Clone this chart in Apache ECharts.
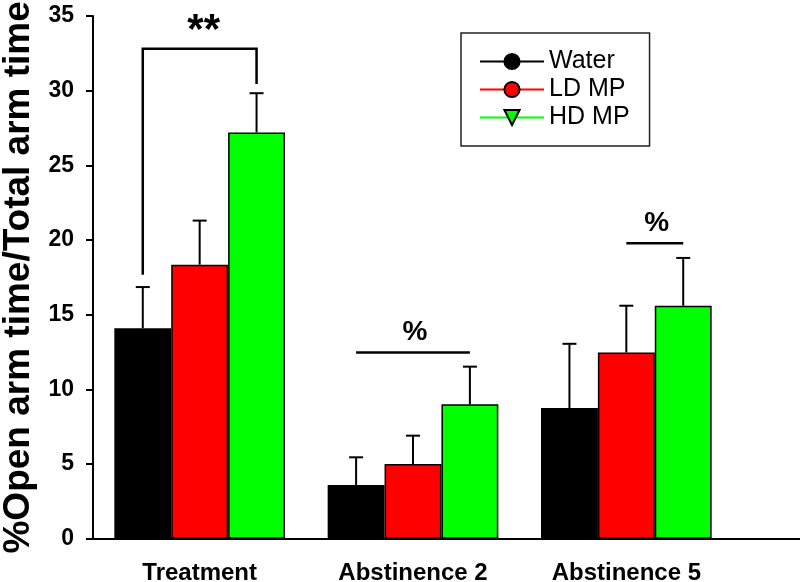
<!DOCTYPE html>
<html>
<head>
<meta charset="utf-8">
<script src="https://cdn.jsdelivr.net/npm/echarts@6/dist/echarts.min.js"></script>
<style>
html,body{margin:0;padding:0;background:#fff;}
#chart{width:800px;height:582px;}
</style>
</head>
<body>
<div id="chart"></div>
<script>
// ---- data ----
const categories = ['Treatment', 'Abstinence 2', 'Abstinence 5'];
const seriesNames = ['Water', 'LD MP', 'HD MP'];
const waterMean = [14.1, 3.6, 8.75];
const waterErr  = [2.75, 1.85, 4.3];
const ldMean    = [18.35, 5.0, 12.47];
const ldErr     = [2.95, 1.9, 3.13];
const hdMean    = [27.2, 9.0, 15.6];
const hdErr     = [2.63, 2.52, 3.2];
const yTicks = { min: 0, max: 35, interval: 5 };
// significance brackets: category, first bar, last bar, bar height, left end, right end, mark
const bracketCat   = [0, 1, 2];
const bracketFrom  = [0, 0, 1];
const bracketTo    = [2, 2, 2];
const bracketTop   = [32.8, 12.47, 19.79];
const bracketLeft  = [17.67, 12.47, 19.79];
const bracketRight = [30.45, 12.47, 19.79];
const bracketText  = ['**', '%', '%'];

const colors = ['#000000', '#ff0000', '#00ff00'];
const symbols = ['circle', 'circle', 'path://M0,0 L10,0 L5,9 Z'];
const means = [waterMean, ldMean, hdMean];
const errs = [waterErr, ldErr, hdErr];
const FONT = '"Liberation Sans", Arial, sans-serif';

const chart = echarts.init(document.getElementById('chart'), null, { renderer: 'canvas' });

const series = [];
// legend proxies (line style legend icon)
seriesNames.forEach((n, i) => {
  series.push({
    type: 'line', name: n, data: [], xAxisIndex: 0, yAxisIndex: 0,
    symbol: symbols[i], symbolSize: 15,
    itemStyle: { color: colors[i], borderColor: '#000', borderWidth: 1 },
    lineStyle: { color: colors[i], width: 1.2 }
  });
});
// bars
seriesNames.forEach((n, i) => {
  series.push({
    type: 'bar', name: n, data: means[i], xAxisIndex: 0, yAxisIndex: 0,
    barGap: '0%', barCategoryGap: '20%',
    itemStyle: { color: colors[i], borderColor: '#000', borderWidth: 1.5 },
    emphasis: { disabled: true }
  });
});
// error bars
const errData = [];
for (let k = 0; k < 3; k++) for (let c = 0; c < categories.length; c++) errData.push([c, k, means[k][c], errs[k][c]]);
series.push({
  type: 'custom', name: 'err', xAxisIndex: 0, yAxisIndex: 0, z: 5,
  encode: { x: 0, y: 2 },
  data: errData,
  renderItem: function (params, api) {
    const c = api.value(0), k = api.value(1), v = api.value(2), e = api.value(3);
    const base = api.coord([c, v]);
    const top = api.coord([c, v + e]);
    const bw = api.size([1, 0])[0] * 0.8 / 3;
    const x = base[0] + (k - 1) * bw;
    const st = { stroke: '#000', lineWidth: 2 };
    return { type: 'group', children: [
      { type: 'line', shape: { x1: x, y1: base[1], x2: x, y2: top[1] }, style: st },
      { type: 'line', shape: { x1: x - 7, y1: top[1], x2: x + 7, y2: top[1] }, style: st }
    ]};
  }
});
// brackets
const brData = bracketCat.map((c, i) => [c, bracketTop[i], bracketLeft[i], bracketRight[i], bracketFrom[i], bracketTo[i], i]);
series.push({
  type: 'custom', name: 'sig', xAxisIndex: 0, yAxisIndex: 0, z: 6,
  encode: { x: 0, y: 1 },
  data: brData,
  renderItem: function (params, api) {
    const c = api.value(0);
    const bw = api.size([1, 0])[0] * 0.8 / 3;
    const ctr = api.coord([c, api.value(1)]);
    const yTop = ctr[1];
    const yL = api.coord([c, api.value(2)])[1];
    const yR = api.coord([c, api.value(3)])[1];
    const xL = ctr[0] + (api.value(4) - 1) * bw;
    const xR = ctr[0] + (api.value(5) - 1) * bw;
    const idx = api.value(6);
    const isStar = bracketText[idx] === '**';
    const st = { stroke: '#000', lineWidth: 2.5 };
    const ch = [
      { type: 'polyline', shape: { points: [[xL, yL], [xL, yTop], [xR, yTop], [xR, yR]] }, style: Object.assign({ fill: null }, st) },
      { type: 'text', x: (xL + xR) / 2 + (isStar ? 4 : 2), y: yTop - (isStar ? 17 : 20), style: {
          text: bracketText[idx], fill: '#000', font: 'bold ' + (isStar ? 42 : 28) + 'px ' + FONT,
          textAlign: 'center', textVerticalAlign: 'middle' } }
    ];
    return { type: 'group', children: ch };
  }
});

const option = {
  backgroundColor: '#fff',
  animation: false,
  textStyle: { fontFamily: FONT },
  grid: [
    { left: 93, right: 67, top: 16, bottom: 43.3, containLabel: false, outerBoundsMode: 'none' },
    { left: 93, right: 0, top: 16, bottom: 43.3, containLabel: false, outerBoundsMode: 'none' }
  ],
  legend: {
    data: seriesNames,
    orient: 'vertical',
    left: 461, top: 33,
    padding: [16, 20, 16, 18],
    itemWidth: 64, itemHeight: 19, itemGap: 3,
    borderColor: '#222', borderWidth: 1.5,
    selectedMode: false,
    textStyle: { fontSize: 25, color: '#000', fontFamily: FONT }
  },
  xAxis: [
    {
      type: 'category', data: categories, gridIndex: 0,
      axisLine: { lineStyle: { color: '#000', width: 2 } },
      axisTick: { alignWithLabel: true, length: 8, lineStyle: { color: '#000', width: 2 } },
      axisLabel: { fontSize: 24, fontWeight: 'bold', color: '#000', margin: 23, fontFamily: FONT },
      splitLine: { show: false }
    },
    {
      type: 'value', gridIndex: 1, min: 0, max: 1,
      axisLine: { show: true, lineStyle: { color: '#000', width: 2 } },
      axisTick: { show: false }, axisLabel: { show: false }, splitLine: { show: false }
    }
  ],
  yAxis: [
    {
      type: 'value', gridIndex: 0, min: yTicks.min, max: yTicks.max, interval: yTicks.interval,
      name: '%Open arm time/Total arm time', nameLocation: 'middle', nameGap: 55,
      nameTextStyle: { fontSize: 37, fontWeight: 'bold', color: '#000', fontFamily: FONT },
      axisLine: { show: true, lineStyle: { color: '#000', width: 2 } },
      axisTick: { show: true, length: 7, lineStyle: { color: '#000', width: 2 } },
      axisLabel: { fontSize: 23, fontWeight: 'bold', color: '#000', margin: 19, fontFamily: FONT },
      splitLine: { show: false }
    },
    {
      type: 'value', gridIndex: 1, min: 0, max: 1, show: false
    }
  ],
  series: series
};
chart.setOption(option);
</script>
</body>
</html>
